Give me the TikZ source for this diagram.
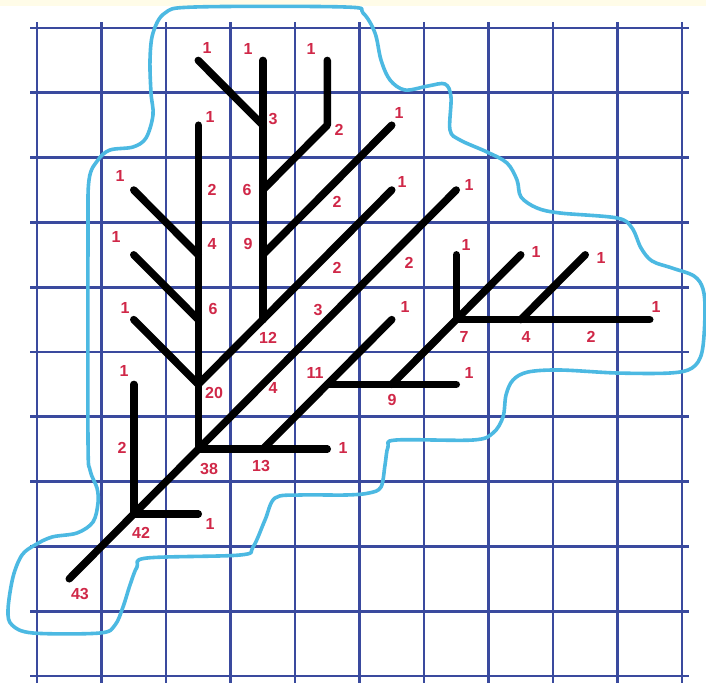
\documentclass[tikz,border=0pt]{standalone}
\usepackage{fontspec}
\setmainfont{Liberation Sans}
\begin{document}
\begin{tikzpicture}[x=1pt,y=-1pt,
  gridline/.style={draw=gridblue,line width=2.8pt},
  branch/.style={draw=black,line width=7.5pt,line cap=round,line join=round},
  outline/.style={draw=curveblue,line width=3.6pt,line join=round},
  lbl/.style={text=lblred,font=\fontsize{16}{16}\selectfont\bfseries,inner sep=0pt,anchor=center}]
\definecolor{gridblue}{HTML}{3A4A9E}
\definecolor{curveblue}{HTML}{4CB9E2}
\definecolor{lblred}{HTML}{D02848}
\definecolor{bandyellow}{HTML}{FFFCE8}
\useasboundingbox (0,0) rectangle (706,683);
\fill[white] (0,0) rectangle (706,683);
\fill[bandyellow] (0,0) rectangle (706,5.5);
% grid
\foreach \i in {0,...,10} {
  \draw[gridline] ({37+64.5*\i},22) -- ({37+64.5*\i},683);
  \draw[gridline] (30,{28+64.8*\i}) -- (689,{28+64.8*\i});
}
% outline
\draw[outline] plot[smooth cycle,tension=0.55] coordinates {
 (150,60) (153,33) (165,13) (195,7) (345,7) (363,13) (375,33) (381,60) (390,80) (405,90) (428,86) (445,84) (451,97) (450,130) (460,140) (487,152) (507,163) (517,180) (521,197) (537,208) (560,213) (617,218) (632,228) (641,248) (652,261) (672,268) (694,276) (703,289) (705,313) (702,352) (692,368) (670,373) (617,373) (560,370) (528,372) (513,380) (506,395) (503,417) (493,433) (473,440) (396,440) (388,447) (385,465) (381,487) (369,493) (346,495) (300,495) (275,498) (265,520) (253,547) (240,555) (147,558) (137,567) (130,585) (123,607) (115,625) (100,633) (33,633) (12,625) (8,610) (13,577) (22,555) (35,545) (52,537) (77,533) (93,522) (98,503) (97,488) (90,470) (88,440) (88,240) (89,180) (98,160) (110,150) (133,147) (146,138) (153,115) (151,93)
};
% tree points
\coordinate (n43) at (69.25,578.8);
\coordinate (n42) at (133.75,514);
\coordinate (n38) at (198.25,449.2);
\coordinate (tA) at (456.25,190);
\coordinate (l42v) at (133.75,384.4);
\coordinate (l42h) at (198.25,514);
\coordinate (n20) at (198.25,384.4);
\coordinate (n6a) at (198.25,319.6);
\coordinate (n4a) at (198.25,254.8);
\coordinate (l38v) at (198.25,125.2);
\coordinate (l20) at (133.75,319.6);
\coordinate (l6a) at (133.75,254.8);
\coordinate (l4a) at (133.75,190);
\coordinate (n12) at (262.75,319.6);
\coordinate (l20d) at (391.75,190);
\coordinate (n9a) at (262.75,254.8);
\coordinate (l9a) at (391.75,125.2);
\coordinate (n6b) at (262.75,190);
\coordinate (b6) at (327.25,125.2);
\coordinate (l6b) at (327.25,60.4);
\coordinate (n3) at (262.75,125.2);
\coordinate (l3) at (198.25,60.4);
\coordinate (l12) at (262.75,60.4);
\coordinate (n13) at (262.75,449.2);
\coordinate (l38h) at (327.25,449.2);
\coordinate (n11) at (327.25,384.4);
\coordinate (l13) at (391.75,319.6);
\coordinate (l11) at (456.25,384.4);
\coordinate (n9b) at (391.75,384.4);
\coordinate (n7) at (456.25,319.6);
\coordinate (l9b) at (520.75,254.8);
\coordinate (l7v) at (456.25,254.8);
\coordinate (l7h) at (649.75,319.6);
\coordinate (n4b) at (520.75,319.6);
\coordinate (l4b) at (585.25,254.8);
% branches
\draw[branch] (n43) -- (n42) -- (n38) -- (tA);
\draw[branch] (n42) -- (l42v);
\draw[branch] (n42) -- (l42h);
\draw[branch] (n38) -- (n20) -- (n6a) -- (n4a) -- (l38v);
\draw[branch] (n20) -- (l20);
\draw[branch] (n6a) -- (l6a);
\draw[branch] (n4a) -- (l4a);
\draw[branch] (n20) -- (n12) -- (l20d);
\draw[branch] (n12) -- (n9a) -- (n6b) -- (n3) -- (l12);
\draw[branch] (n9a) -- (l9a);
\draw[branch] (n6b) -- (b6) -- (l6b);
\draw[branch] (n3) -- (l3);
\draw[branch] (n38) -- (n13) -- (l38h);
\draw[branch] (n13) -- (n11) -- (l13);
\draw[branch] (n11) -- (n9b) -- (l11);
\draw[branch] (n9b) -- (n7) -- (l9b);
\draw[branch] (n7) -- (l7v);
\draw[branch] (n7) -- (n4b) -- (l7h);
\draw[branch] (n4b) -- (l4b);
% labels
\node[lbl] (t1) at (207,48) {1};
\node[lbl] (t2) at (248,49) {1};
\node[lbl] (t3) at (311,49) {1};
\node[lbl] (t4) at (273,119) {3};
\node[lbl] (t5) at (339,130) {2};
\node[lbl] (t6) at (210,117) {1};
\node[lbl] (t7) at (399,113) {1};
\node[lbl] (t8) at (120,176) {1};
\node[lbl] (t9) at (212,190) {2};
\node[lbl] (t10) at (247,190) {6};
\node[lbl] (t11) at (337,202) {2};
\node[lbl] (t12) at (402,182) {1};
\node[lbl] (t13) at (469,185) {1};
\node[lbl] (t14) at (116,237) {1};
\node[lbl] (t15) at (212,244) {4};
\node[lbl] (t16) at (248,244) {9};
\node[lbl] (t17) at (337,268) {2};
\node[lbl] (t18) at (409,263) {2};
\node[lbl] (t19) at (466,245) {1};
\node[lbl] (t20) at (536,252) {1};
\node[lbl] (t21) at (601,258) {1};
\node[lbl] (t22) at (125,308) {1};
\node[lbl] (t23) at (213,309) {6};
\node[lbl] (t24) at (268,338) {12};
\node[lbl] (t25) at (318,310) {3};
\node[lbl] (t26) at (405,307) {1};
\node[lbl] (t27) at (656,307) {1};
\node[lbl] (t28) at (464,337) {7};
\node[lbl] (t29) at (526,337) {4};
\node[lbl] (t30) at (591,337) {2};
\node[lbl] (t31) at (124,371) {1};
\node[lbl] (t32) at (214,393) {20};
\node[lbl] (t33) at (273,388) {4};
\node[lbl] (t34) at (315,373) {11};
\node[lbl] (t35) at (469,373) {1};
\node[lbl] (t36) at (392,400) {9};
\node[lbl] (t37) at (122,448) {2};
\node[lbl] (t38) at (209,469) {38};
\node[lbl] (t39) at (261,466) {13};
\node[lbl] (t40) at (343,448) {1};
\node[lbl] (t41) at (210,524) {1};
\node[lbl] (t42) at (141,533) {42};
\node[lbl] (t43) at (80,594) {43};
\end{tikzpicture}
\end{document}
